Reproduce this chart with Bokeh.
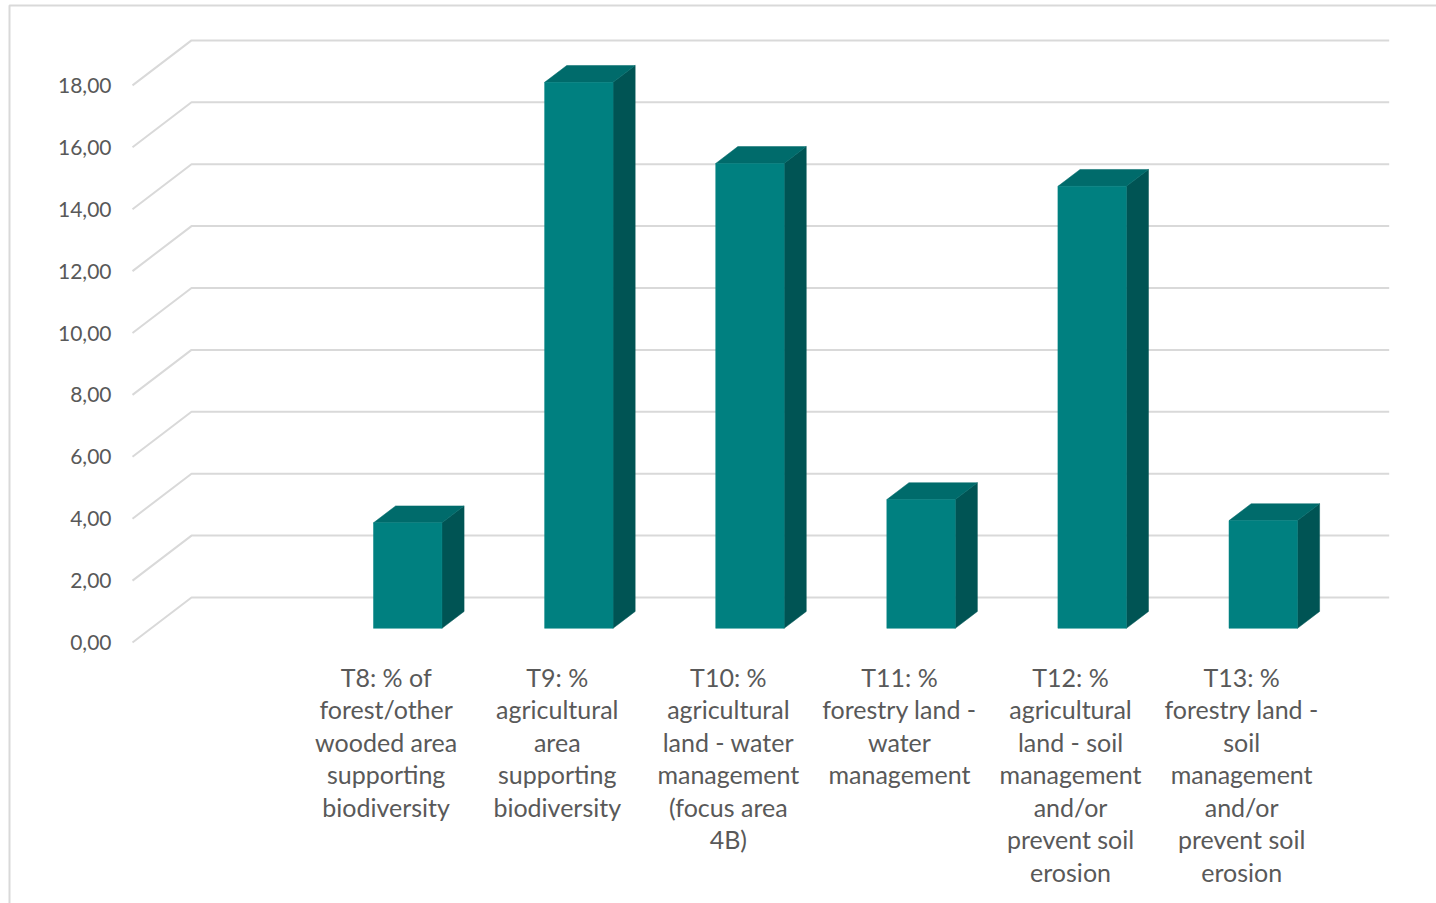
import math
from bokeh.plotting import figure
from bokeh.models import Range1d
from bokeh.core.properties import value
from bokeh.embed import file_html
from bokeh.resources import INLINE

# ---------------- data ----------------
categories = [
    "",
    "T8: % of\nforest/other\nwooded area\nsupporting\nbiodiversity",
    "T9: %\nagricultural\narea\nsupporting\nbiodiversity",
    "T10: %\nagricultural\nland - water\nmanagement\n(focus area\n4B)",
    "T11: %\nforestry land -\nwater\nmanagement",
    "T12: %\nagricultural\nland - soil\nmanagement\nand/or\nprevent soil\nerosion",
    "T13: %\nforestry land -\nsoil\nmanagement\nand/or\nprevent soil\nerosion",
]
values = [float("nan"), 3.41, 17.64, 15.02, 4.16, 14.28, 3.48]
y_ticks = [0, 2, 4, 6, 8, 10, 12, 14, 16, 18]
y_tick_labels = ["0,00", "2,00", "4,00", "6,00", "8,00", "10,00", "12,00", "14,00", "16,00", "18,00"]

# ---------------- geometry / style ----------------
W, H = 1436, 903
X0, SLOT = 132.0, 171.1      # px of front-plane left edge, px per category slot
Y0, PPU = 642.0, 30.95       # px of value 0 on the front plane, px per value unit
DX = 59.0 / SLOT             # depth offset of back wall (data units)
DY = 45.0 / PPU
D0, D1 = 0.315, 0.69         # bar front / back depth fractions
HW = 0.2                     # half bar width (slot units)

FRONT, TOP, SIDE = "#008080", "#006B6B", "#005454"
GRID = "#D9D9D9"
TXT = "#595959"
FONT = value("Lato")

def px_x(px):
    return (px - X0) / SLOT

def px_y(py):
    return (Y0 - py) / PPU

p = figure(width=W, height=H,
           x_range=Range1d(px_x(0), px_x(W)), y_range=Range1d(px_y(H), px_y(0)),
           output_backend="svg", toolbar_location=None,
           x_axis_location=None, y_axis_location=None, min_border=0)
p.outline_line_color = None
p.background_fill_color = "white"
p.border_fill_color = "white"
for g in p.grid:
    g.visible = False

n = len(categories)

# chart-area border (left and top visible)
p.line(x=[px_x(9), px_x(9), px_x(W + 20)], y=[px_y(H + 20), px_y(5), px_y(5)],
       line_color=GRID, line_width=2)

# gridlines: front diagonal + back wall
p.multi_line(xs=[[0, DX, n + DX] for t in y_ticks],
             ys=[[t, t + DY, t + DY] for t in y_ticks],
             line_color=GRID, line_width=2)

# bars
fx, fy, sx, sy, tx, ty = [], [], [], [], [], []
for i, v in enumerate(values):
    if v is None or math.isnan(v):
        continue
    c = i + 0.5
    xl0, xr0 = c - HW + D0 * DX, c + HW + D0 * DX
    xl1, xr1 = c - HW + D1 * DX, c + HW + D1 * DX
    b0, b1 = D0 * DY, D1 * DY
    fx.append([xl0, xr0, xr0, xl0]); fy.append([b0, b0, v + b0, v + b0])
    sx.append([xr0, xr1, xr1, xr0]); sy.append([b0, b1, v + b1, v + b0])
    tx.append([xl0, xr0, xr1, xl1]); ty.append([v + b0, v + b0, v + b1, v + b1])

p.patches(xs=sx, ys=sy, fill_color=SIDE, line_color=SIDE, line_width=0.5)
p.patches(xs=tx, ys=ty, fill_color=TOP, line_color=TOP, line_width=0.5)
p.patches(xs=fx, ys=fy, fill_color=FRONT, line_color=FRONT, line_width=0.5)

# y tick labels
p.text(x=[px_x(111)] * len(y_ticks), y=y_ticks, text=y_tick_labels,
       text_align="right", text_baseline="middle", text_font=FONT,
       text_font_size="21px", text_color=TXT)

# category labels
cx = [i + 0.5 - 3.0 / SLOT for i in range(n)]
p.text(x=cx, y=[px_y(661)] * n, text=categories,
       text_align="center", text_baseline="top", text_line_height=1.085,
       text_font=FONT, text_font_size="25px", text_color=TXT)

open("out.html", "w").write(file_html(p, INLINE))
